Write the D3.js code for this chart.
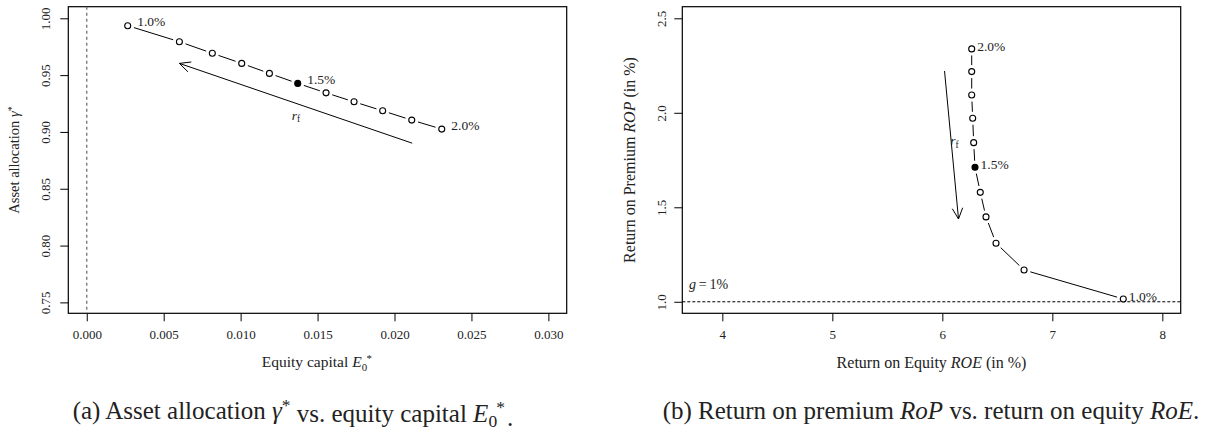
<!DOCTYPE html>
<html>
<head>
<meta charset="utf-8">
<script src="https://cdnjs.cloudflare.com/ajax/libs/d3/7.8.5/d3.min.js"></script>
<style>
  body { margin: 0; background: #fff; }
  svg text { font-family: "Liberation Serif", "DejaVu Serif", serif; fill: #222; }
</style>
</head>
<body>
<div id="chart"></div>
<script>
// risk-free rate r_f from 1.0% to 2.0%
const rates = ["1.0%", "1.1%", "1.2%", "1.3%", "1.4%", "1.5%", "1.6%", "1.7%", "1.8%", "1.9%", "2.0%"];
const labelledRates = ["1.0%", "1.5%", "2.0%"];
const highlightRate = "1.5%";

// panel (a): equity capital E0* vs asset allocation gamma*
const equityCapital = [0.00266, 0.00602, 0.00816, 0.01007, 0.01187, 0.01371, 0.01555, 0.01737, 0.01923, 0.02112, 0.02307];
const assetAllocation = [0.9935, 0.9794, 0.9692, 0.9603, 0.9515, 0.9427, 0.9344, 0.9265, 0.9186, 0.9104, 0.9025];
const xTicksA = [0, 0.005, 0.01, 0.015, 0.02, 0.025, 0.03];
const yTicksA = [0.75, 0.80, 0.85, 0.90, 0.95, 1.00];
const arrowA = [[0.02115, 0.8901], [0.00602, 0.9603]];
const rfLabelA = [0.0136, 0.9133];

// panel (b): return on equity vs return on premium (in %)
const roe = [7.645, 6.743, 6.488, 6.397, 6.345, 6.297, 6.285, 6.276, 6.267, 6.267, 6.267];
const rop = [1.015, 1.168, 1.310, 1.449, 1.579, 1.712, 1.842, 1.971, 2.094, 2.218, 2.338];
const xTicksB = [4, 5, 6, 7, 8];
const yTicksB = [1.0, 1.5, 2.0, 2.5];
const growthRate = 1.0;
const arrowB = [[6.02, 2.221], [6.147, 1.438]];
const rfLabelB = [6.11, 1.842];

const svg = d3.select('#chart')
    .append('svg')
    .attr('width', 1218)
    .attr('height', 433);

const plotTop = 6.7, plotBottom = 313.3;

// rich text helper: pieces of [text, kind]
function richText(sel, pieces) {
    pieces.forEach(function (p) {
        const t = sel.append('tspan').text(p[0]);
        if (p[1] === 'i') t.style('font-style', 'italic');
        if (p[1] === 'sub') t.attr('font-size', '70%').attr('dy', '0.3em');
        if (p[1] === 'sup') t.attr('font-size', '70%').attr('dy', '-0.45em');
        if (p[1] === 'subsup') {
            t.attr('font-size', '70%').attr('dy', '0.3em');
            sel.append('tspan').text(p[2]).attr('font-size', '70%').attr('dx', '-0.05em').attr('dy', '-0.8em');
            sel.append('tspan').text('\u200A').attr('dy', '0.5em');
        }
        if (p[1] === 'supend') t.attr('font-size', '70%').attr('dy', '-0.45em');
        if (p[1] === 'reset') t.attr('dy', p[2]);
    });
}

function drawPanel(cfg) {
    const g = svg.append('g');
    const x = cfg.x, y = cfg.y;

    // axes
    g.append('g')
        .attr('transform', `translate(0,${plotBottom})`)
        .call(d3.axisBottom(x).tickValues(cfg.xTicks).tickSize(8).tickPadding(8).tickFormat(d3.format(cfg.xFmt)))
        .call(a => a.select('.domain').remove())
        .call(a => a.selectAll('text').style('font-size', '13px').style('font-family', '"Liberation Serif", serif').attr('fill', '#222'));

    g.append('g')
        .attr('transform', `translate(${x.range()[0]},0)`)
        .call(d3.axisLeft(y).tickValues(cfg.yTicks).tickSize(8).tickFormat(d3.format(cfg.yFmt)))
        .call(a => a.select('.domain').remove())
        .call(a => a.selectAll('text')
            .attr('x', null).attr('dy', null)
            .attr('transform', `translate(${-cfg.yLabelOff},0) rotate(-90)`)
            .attr('dy', '0.35em')
            .style('text-anchor', 'middle')
            .style('font-size', '13px')
            .style('font-family', '"Liberation Serif", serif')
            .attr('fill', '#222'));

    g.selectAll('.tick line').attr('stroke', '#000');

    // box
    g.append('rect')
        .attr('x', x.range()[0])
        .attr('y', plotTop)
        .attr('width', x.range()[1] - x.range()[0])
        .attr('height', plotBottom - plotTop)
        .attr('fill', 'none')
        .attr('stroke', '#000')
        .attr('stroke-width', 1.2);

    // reference line
    if (cfg.vline !== undefined) {
        g.append('line')
            .attr('x1', x(cfg.vline)).attr('x2', x(cfg.vline))
            .attr('y1', plotTop).attr('y2', plotBottom)
            .attr('stroke', '#666').attr('stroke-width', 1.2)
            .attr('stroke-dasharray', '3,3');
    }
    if (cfg.hline !== undefined) {
        g.append('line')
            .attr('x1', x.range()[0]).attr('x2', x.range()[1])
            .attr('y1', y(cfg.hline)).attr('y2', y(cfg.hline))
            .attr('stroke', '#000').attr('stroke-width', 1)
            .attr('stroke-dasharray', '3,2');
    }

    // line segments with gaps around points (type "b")
    const pts = cfg.xs.map((v, i) => [x(v), y(cfg.ys[i])]);
    const gap = 6.5;
    for (let i = 0; i < pts.length - 1; i++) {
        const [x0, y0] = pts[i], [x1, y1] = pts[i + 1];
        const len = Math.hypot(x1 - x0, y1 - y0);
        if (len <= 2 * gap) continue;
        const ux = (x1 - x0) / len, uy = (y1 - y0) / len;
        g.append('line')
            .attr('x1', x0 + ux * gap).attr('y1', y0 + uy * gap)
            .attr('x2', x1 - ux * gap).attr('y2', y1 - uy * gap)
            .attr('stroke', '#000').attr('stroke-width', 1);
    }

    // points
    g.selectAll('circle.pt')
        .data(rates)
        .enter()
        .append('circle')
        .attr('class', 'pt')
        .attr('cx', (d, i) => x(cfg.xs[i]))
        .attr('cy', (d, i) => y(cfg.ys[i]))
        .attr('r', 3)
        .attr('fill', d => d === highlightRate ? '#000' : '#fff')
        .attr('stroke', '#000')
        .attr('stroke-width', 1.1);

    // rate labels
    rates.forEach(function (d, i) {
        if (labelledRates.indexOf(d) < 0) return;
        g.append('text')
            .attr('x', x(cfg.xs[i]) + cfg.labelDx)
            .attr('y', y(cfg.ys[i]) - cfg.labelDy)
            .attr('dy', '0.35em')
            .style('font-size', '13.5px')
            .attr('fill', '#444')
            .text(d);
    });

    // arrow r_f
    const a0 = [x(cfg.arrow[0][0]), y(cfg.arrow[0][1])];
    const a1 = [x(cfg.arrow[1][0]), y(cfg.arrow[1][1])];
    const ang = Math.atan2(a1[1] - a0[1], a1[0] - a0[0]);
    const hl = 12, ha = Math.PI / 7;
    g.append('path')
        .attr('d', `M${a0[0]},${a0[1]}L${a1[0]},${a1[1]}` +
            `M${a1[0] - hl * Math.cos(ang - ha)},${a1[1] - hl * Math.sin(ang - ha)}L${a1[0]},${a1[1]}` +
            `L${a1[0] - hl * Math.cos(ang + ha)},${a1[1] - hl * Math.sin(ang + ha)}`)
        .attr('fill', 'none')
        .attr('stroke', '#000')
        .attr('stroke-width', 1);

    const rf = g.append('text')
        .attr('x', x(cfg.rfLabel[0]))
        .attr('y', y(cfg.rfLabel[1]))
        .attr('dy', '0.2em')
        .style('text-anchor', 'middle')
        .style('font-size', '13.5px')
        .attr('fill', '#333');
    richText(rf, [['r', 'i'], ['f', 'sub']]);

    // axis titles
    const xt = g.append('text')
        .attr('x', (x.range()[0] + x.range()[1]) / 2)
        .attr('y', 362)
        .attr('dy', '0.35em')
        .style('text-anchor', 'middle')
        .style('font-size', cfg.xTitleSize);
    richText(xt, cfg.xTitle);

    const yt = g.append('text')
        .attr('transform', `translate(${cfg.yTitleX},${(plotTop + plotBottom) / 2}) rotate(-90)`)
        .attr('dy', '0.35em')
        .style('text-anchor', 'middle')
        .style('font-size', cfg.yTitleSize);
    richText(yt, cfg.yTitle);

    // caption
    const cap = g.append('text')
        .attr('x', cfg.capX)
        .attr('y', 410)
        .attr('dy', '0.35em')
        .style('text-anchor', 'middle')
        .style('font-size', '25px')
        .attr('fill', '#000');
    richText(cap, cfg.caption);

    return g;
}

// panel (a)
const xA = d3.scaleLinear().domain([-0.0012, 0.03119]).range([68.3, 566.7]);
const yA = d3.scaleLinear().domain([0.7404, 1.0102]).range([plotBottom, plotTop]);
drawPanel({
    x: xA, y: yA,
    xs: equityCapital, ys: assetAllocation,
    xTicks: xTicksA, yTicks: yTicksA, xFmt: '.3f', yFmt: '.2f',
    yLabelOff: 23,
    vline: 0,
    labelDx: 9.5, labelDy: 4,
    arrow: arrowA, rfLabel: rfLabelA,
    xTitle: [['Equity capital '], ['E', 'i'], ['0', 'subsup', '*']],
    xTitleSize: '15.5px',
    yTitle: [['Asset allocation '], ['\u03B3', 'i'], ['*', 'supend']],
    yTitleSize: '14.5px',
    yTitleX: 14,
    capX: 293,
    caption: [['(a) Asset allocation '], ['\u03B3', 'i'], ['*', 'sup'], [' vs. equity capital ', 'reset', '0.45em'], ['E', 'i'], ['0', 'subsup', '*'], ['.']]
});

// panel (b)
const xB = d3.scaleLinear().domain([3.636, 8.167]).range([682.3, 1180.7]);
const yB = d3.scaleLinear().domain([0.939, 2.5614]).range([plotBottom, plotTop]);
const gB = drawPanel({
    x: xB, y: yB,
    xs: roe, ys: rop,
    xTicks: xTicksB, yTicks: yTicksB, xFmt: 'd', yFmt: '.1f',
    yLabelOff: 20.6,
    hline: growthRate,
    labelDx: 5.5, labelDy: 3,
    arrow: arrowB, rfLabel: rfLabelB,
    xTitle: [['Return on Equity '], ['ROE', 'i'], [' (in %)']],
    xTitleSize: '16px',
    yTitle: [['Return on Premium '], ['ROP', 'i'], [' (in %)']],
    yTitleSize: '16px',
    yTitleX: 629,
    capX: 931,
    caption: [['(b) Return on premium '], ['RoP', 'i'], [' vs. return on equity '], ['RoE', 'i'], ['.']]
});

// g = 1% label
const gl = gB.append('text')
    .attr('x', 689)
    .attr('y', yB(growthRate) - 18)
    .attr('dy', '0.35em')
    .style('font-size', '14px')
    .attr('fill', '#444');
richText(gl, [['g', 'i'], ['\u2009=\u20091%']]);
</script>
</body>
</html>
